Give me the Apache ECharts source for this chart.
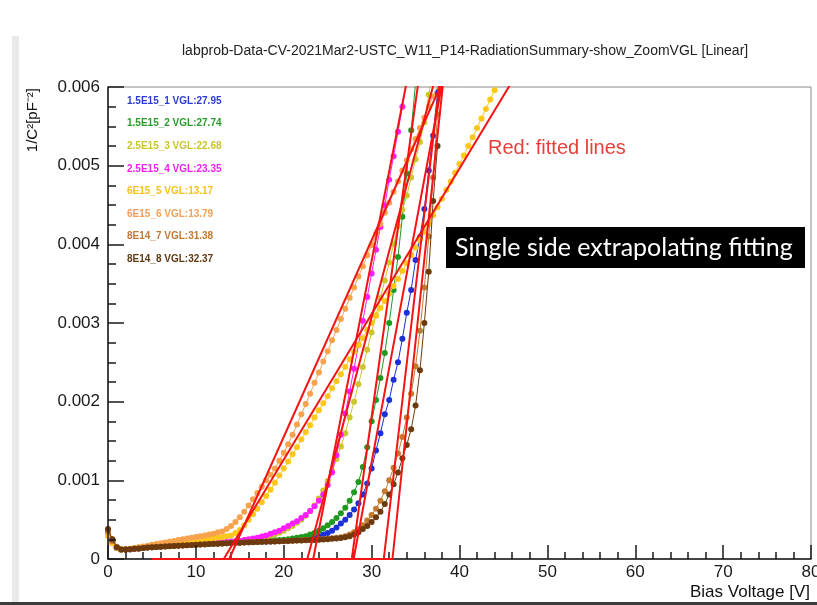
<!DOCTYPE html>
<html>
<head>
<meta charset="utf-8">
<title>1/C^2 vs bias voltage</title>
<script src="https://cdn.jsdelivr.net/npm/echarts/dist/echarts.min.js"></script>
<style>
  html, body { margin: 0; padding: 0; background: #fff; }
  #chart { width: 817px; height: 605px; }
</style>
</head>
<body>
<div id="chart"></div>
<script>
// Bias voltage grid of the CV scan (V), 0.5 V steps
const biasVoltage = [
  0, 0.5, 1, 1.5, 2, 2.5, 3, 3.5, 4, 4.5,
  5, 5.5, 6, 6.5, 7, 7.5, 8, 8.5, 9, 9.5,
  10, 10.5, 11, 11.5, 12, 12.5, 13, 13.5, 14, 14.5,
  15, 15.5, 16, 16.5, 17, 17.5, 18, 18.5, 19, 19.5,
  20, 20.5, 21, 21.5, 22, 22.5, 23, 23.5, 24, 24.5,
  25, 25.5, 26, 26.5, 27, 27.5, 28, 28.5, 29, 29.5,
  30, 30.5, 31, 31.5, 32, 32.5, 33, 33.5, 34, 34.5,
  35, 35.5, 36, 36.5, 37, 37.5, 38, 38.5, 39, 39.5,
  40, 40.5, 41, 41.5, 42, 42.5, 43, 43.5, 44, 44.5,
  45
];

// Sample names, depletion voltages from the fits
const sampleNames = ['1.5E15_1', '1.5E15_2', '2.5E15_3', '2.5E15_4', '6E15_5', '6E15_6', '8E14_7', '8E14_8'];
const vgl = [27.95, 27.74, 22.68, 23.35, 13.17, 13.79, 31.38, 32.37];

// 1/C^2 values in units of 1e-3 pF^-2, one per bias step
const inv1 = [
  0.32, 0.21, 0.14, 0.12, 0.12, 0.125, 0.13, 0.135, 0.14, 0.145,
  0.15, 0.154, 0.158, 0.162, 0.165, 0.168, 0.171, 0.174, 0.177, 0.18,
  0.183, 0.186, 0.189, 0.192, 0.195, 0.197, 0.2, 0.202, 0.205, 0.207,
  0.21, 0.212, 0.214, 0.216, 0.218, 0.22, 0.222, 0.224, 0.226, 0.228,
  0.23, 0.235, 0.24, 0.245, 0.25, 0.26, 0.27, 0.28, 0.29, 0.31,
  0.33, 0.36, 0.40, 0.45, 0.50, 0.56, 0.63, 0.71, 0.82, 0.96,
  1.15, 1.38, 1.60, 1.84, 2.02, 2.28, 2.50, 2.80, 3.13, 3.42,
  3.80, 4.09, 4.45, 4.94, 5.38, 5.93, 6.45
];
const inv2 = [
  0.33, 0.22, 0.14, 0.12, 0.12, 0.125, 0.13, 0.135, 0.14, 0.145,
  0.15, 0.154, 0.158, 0.162, 0.165, 0.168, 0.171, 0.174, 0.177, 0.18,
  0.183, 0.186, 0.189, 0.192, 0.195, 0.198, 0.201, 0.204, 0.207, 0.21,
  0.213, 0.216, 0.219, 0.222, 0.225, 0.228, 0.231, 0.234, 0.237, 0.24,
  0.245, 0.25, 0.26, 0.27, 0.28, 0.29, 0.31, 0.33, 0.36, 0.39,
  0.43, 0.47, 0.52, 0.58, 0.65, 0.74, 0.85, 0.98, 1.17, 1.42,
  1.75, 2.02, 2.30, 2.62, 3.00, 3.42, 3.84, 4.35, 4.90, 5.45,
  6.05
];
const inv3 = [
  0.31, 0.21, 0.14, 0.12, 0.12, 0.125, 0.13, 0.136, 0.142, 0.148,
  0.153, 0.158, 0.163, 0.167, 0.171, 0.175, 0.179, 0.183, 0.187, 0.19,
  0.194, 0.197, 0.2, 0.204, 0.207, 0.21, 0.214, 0.217, 0.221, 0.225,
  0.23, 0.235, 0.24, 0.247, 0.255, 0.265, 0.28, 0.295, 0.315, 0.335,
  0.36, 0.39, 0.42, 0.46, 0.50, 0.55, 0.61, 0.68, 0.77, 0.87,
  0.99, 1.12, 1.27, 1.43, 1.60, 1.80, 2.00, 2.22, 2.44, 2.66,
  2.88, 3.10, 3.32, 3.54, 3.77, 4.00, 4.23, 4.44, 4.62, 4.85,
  5.08, 5.30, 5.55, 5.90, 6.25
];
const inv4 = [
  0.30, 0.20, 0.14, 0.12, 0.12, 0.125, 0.13, 0.136, 0.142, 0.148,
  0.153, 0.158, 0.163, 0.167, 0.171, 0.175, 0.179, 0.183, 0.187, 0.19,
  0.194, 0.197, 0.2, 0.204, 0.207, 0.21, 0.214, 0.217, 0.221, 0.225,
  0.23, 0.24, 0.25, 0.26, 0.27, 0.285, 0.30, 0.32, 0.34, 0.36,
  0.39, 0.42, 0.45, 0.48, 0.52, 0.56, 0.61, 0.67, 0.74, 0.82,
  0.94, 1.10, 1.32, 1.58, 1.85, 2.13, 2.42, 2.72, 3.03, 3.33,
  3.63, 3.93, 4.22, 4.50, 4.82, 5.12, 5.43, 5.75, 6.08
];
const inv5 = [
  0.30, 0.20, 0.14, 0.12, 0.125, 0.13, 0.14, 0.145, 0.15, 0.16,
  0.165, 0.17, 0.18, 0.185, 0.19, 0.20, 0.205, 0.21, 0.22, 0.225,
  0.23, 0.24, 0.245, 0.25, 0.26, 0.27, 0.28, 0.29, 0.30, 0.33,
  0.37, 0.43, 0.50, 0.57, 0.64, 0.72, 0.80, 0.88, 0.97, 1.06,
  1.15, 1.24, 1.33, 1.42, 1.52, 1.61, 1.70, 1.80, 1.89, 1.98,
  2.07, 2.17, 2.26, 2.35, 2.44, 2.54, 2.63, 2.72, 2.81, 2.91,
  3.00, 3.09, 3.19, 3.28, 3.37, 3.47, 3.56, 3.66, 3.76, 3.86,
  3.96, 4.06, 4.16, 4.26, 4.37, 4.47, 4.58, 4.69, 4.80, 4.91,
  5.02, 5.13, 5.25, 5.36, 5.48, 5.60, 5.72, 5.84, 5.96, 6.08
];
const inv6 = [
  0.37, 0.25, 0.15, 0.12, 0.12, 0.13, 0.14, 0.15, 0.16, 0.17,
  0.18, 0.19, 0.20, 0.21, 0.22, 0.23, 0.24, 0.25, 0.26, 0.27,
  0.28, 0.29, 0.30, 0.31, 0.32, 0.34, 0.35, 0.38, 0.42, 0.47,
  0.53, 0.60, 0.68, 0.76, 0.84, 0.92, 1.00, 1.07, 1.15, 1.25,
  1.35, 1.46, 1.58, 1.71, 1.84, 1.97, 2.10, 2.24, 2.37, 2.51,
  2.64, 2.78, 2.91, 3.05, 3.18, 3.32, 3.45, 3.59, 3.72, 3.86,
  3.99, 4.13, 4.26, 4.40, 4.53, 4.67, 4.80, 4.94, 5.07, 5.21,
  5.34, 5.48, 5.61, 5.75, 5.88, 6.02
];
const inv7 = [
  0.35, 0.23, 0.15, 0.12, 0.12, 0.125, 0.13, 0.135, 0.14, 0.145,
  0.149, 0.153, 0.157, 0.161, 0.164, 0.167, 0.17, 0.173, 0.176, 0.179,
  0.182, 0.185, 0.188, 0.191, 0.193, 0.196, 0.198, 0.201, 0.203, 0.206,
  0.208, 0.21, 0.213, 0.215, 0.217, 0.219, 0.221, 0.223, 0.225, 0.227,
  0.229, 0.231, 0.233, 0.235, 0.237, 0.24, 0.243, 0.246, 0.25, 0.254,
  0.258, 0.263, 0.27, 0.278, 0.29, 0.31, 0.34, 0.38, 0.43, 0.49,
  0.56, 0.64, 0.74, 0.86, 1.00, 1.16, 1.34, 1.55, 1.80, 2.10,
  2.45, 2.90, 3.45, 4.10, 4.85, 5.65, 6.40
];
const inv8 = [
  0.38, 0.25, 0.15, 0.12, 0.12, 0.125, 0.13, 0.135, 0.14, 0.145,
  0.148, 0.152, 0.156, 0.16, 0.163, 0.166, 0.17, 0.173, 0.176, 0.179,
  0.182, 0.185, 0.188, 0.19, 0.193, 0.195, 0.198, 0.2, 0.203, 0.205,
  0.207, 0.21, 0.212, 0.214, 0.216, 0.218, 0.22, 0.222, 0.224, 0.226,
  0.228, 0.23, 0.232, 0.234, 0.236, 0.238, 0.24, 0.243, 0.246, 0.249,
  0.252, 0.256, 0.26, 0.266, 0.275, 0.29, 0.31, 0.34, 0.38, 0.42,
  0.47, 0.53, 0.60, 0.70, 0.82, 0.95, 1.10, 1.28, 1.45, 1.65,
  1.95, 2.40, 3.00, 3.65, 4.55, 5.25
];
const inverseC2 = [inv1, inv2, inv3, inv4, inv5, inv6, inv7, inv8];

// Linear fit slopes above depletion (1e-3 pF^-2 per V); each fit line crosses zero at its VGL
const fitSlope = [0.60, 0.80, 0.42, 0.57, 0.185, 0.25, 0.95, 1.05];
const fitBaseStart = 5;      // start of the flat (zero) part of the fit, V
const fitTopValue = 6.4;     // fit drawn up past the top of the frame, 1e-3 pF^-2

const markerColors = ['#1c2fd8', '#1f9a1f', '#cbc62c', '#ff1cff', '#ffc61c', '#f7a24c', '#c27a2e', '#6c3a0e'];
const legendColors = ['#2a3bd0', '#2a9a2a', '#c9c530', '#ee22ee', '#f5c21e', '#f2a058', '#c07a34', '#5e3a14'];
const fitColor = '#f41414';

// Axis ranges: major and minor tick spacing
const yTicks = { min: 0, max: 0.006, interval: 0.001, minor: 0.00025 };
const xTicks = { min: 0, max: 80, interval: 10, minor: 2 };

const FONT = '"Liberation Sans", Arial, Helvetica, sans-serif';
const AXIS_COLOR = '#1a1a1a';

const chart = echarts.init(document.getElementById('chart'), null, { renderer: 'canvas' });

const labels = sampleNames.map((n, i) => n + ' VGL:' + vgl[i].toFixed(2));

const dataSeries = inverseC2.map((vals, i) => ({
  name: labels[i],
  type: 'line',
  data: vals.map((v, k) => [biasVoltage[k], v / 1000]),
  symbol: 'circle',
  symbolSize: 6,
  showSymbol: true,
  itemStyle: { color: markerColors[i] },
  lineStyle: { color: markerColors[i], width: 1 },
  clip: true,
  z: 2 + i * 0.01,
  emphasis: { disabled: true },
  animation: false
}));

const fitSeries = vgl.map((v0, i) => ({
  name: 'fit ' + sampleNames[i],
  type: 'line',
  data: [
    [fitBaseStart, 0],
    [v0, 0],
    [v0 + fitTopValue / fitSlope[i], fitTopValue / 1000]
  ],
  symbol: 'none',
  lineStyle: { color: fitColor, width: 2 },
  clip: true,
  silent: true,
  z: 9,
  emphasis: { disabled: true },
  animation: false
}));

// Major-tick axis (with labels) and a label-less companion carrying the short ticks
function majorAxis(t, labelMargin, tickLen) {
  return {
    type: 'value',
    min: t.min, max: t.max, interval: t.interval,
    axisLine: { show: true, onZero: false, lineStyle: { color: AXIS_COLOR, width: 1.5 } },
    axisTick: { show: true, inside: true, length: tickLen, lineStyle: { color: AXIS_COLOR, width: 1.5 } },
    splitLine: { show: false },
    axisLabel: { fontFamily: FONT, fontSize: 17, color: AXIS_COLOR, margin: labelMargin },
    z: 8
  };
}
function minorAxis(t, tickLen) {
  return {
    type: 'value',
    min: t.min, max: t.max, interval: t.minor,
    axisLine: { show: false, onZero: false },
    axisTick: { show: true, inside: true, length: tickLen, lineStyle: { color: AXIS_COLOR, width: 1.5 } },
    splitLine: { show: false },
    axisLabel: { show: false },
    z: 8
  };
}

chart.setOption({
  animation: false,
  backgroundColor: '#ffffff',
  title: {
    text: 'labprob-Data-CV-2021Mar2-USTC_W11_P14-RadiationSummary-show_ZoomVGL [Linear]',
    left: 177,
    top: 39,
    textStyle: { fontFamily: FONT, fontSize: 14, fontWeight: 'normal', color: '#222' }
  },
  legend: {
    orient: 'vertical',
    left: 117,
    top: 90,
    itemWidth: 0,
    itemHeight: 12,
    itemGap: 11.6,
    icon: 'none',
    selectedMode: false,
    data: labels.map((l, i) => ({ name: l, textStyle: { color: legendColors[i] } })),
    textStyle: { fontFamily: FONT, fontSize: 10, fontWeight: 'bold', padding: 0 }
  },
  grid: {
    left: 108, right: 6, top: 87, bottom: 46,
    outerBoundsMode: 'none',
    containLabel: false,
    show: true, borderColor: '#8a8a8a', borderWidth: 1, backgroundColor: 'transparent'
  },
  xAxis: [
    Object.assign(majorAxis(xTicks, 5, 14), { position: 'bottom' }),
    Object.assign(minorAxis(xTicks, 7), { position: 'bottom', offset: 0 })
  ],
  yAxis: [
    Object.assign(majorAxis(yTicks, 8, 16), { position: 'left' }),
    Object.assign(minorAxis(yTicks, 8), { position: 'left', offset: 0 })
  ],
  graphic: [
    { type: 'rect', shape: { x: 12, y: 36, width: 7, height: 566 }, style: { fill: '#e9e9e9' }, z: -10, silent: true },
    { type: 'rect', shape: { x: 0, y: 602, width: 817, height: 3 }, style: { fill: '#3c3c3c' }, z: -10, silent: true },
    {
      type: 'text', x: 33, y: 88, rotation: Math.PI / 2,
      style: { text: '1/C²[pF⁻²]', fill: '#111', font: '15px ' + FONT, align: 'right', verticalAlign: 'middle' },
      silent: true
    },
    {
      type: 'text', x: 810, y: 592,
      style: { text: 'Bias Voltage [V]', fill: '#111', font: '17px ' + FONT, align: 'right', verticalAlign: 'middle' },
      silent: true
    },
    {
      type: 'text', x: 488, y: 148,
      style: { text: 'Red: fitted lines', fill: '#e5403a', font: '20px ' + FONT, align: 'left', verticalAlign: 'middle' },
      silent: true, z: 10
    },
    { type: 'rect', shape: { x: 446, y: 227, width: 359, height: 41 }, style: { fill: '#000' }, z: 10, silent: true },
    {
      type: 'text', x: 455, y: 248,
      style: { text: 'Single side extrapolating fitting', fill: '#fff', font: '25px Lato, "Open Sans", sans-serif', align: 'left', verticalAlign: 'middle' },
      silent: true, z: 11
    }
  ],
  series: dataSeries.concat(fitSeries)
});
</script>
</body>
</html>
